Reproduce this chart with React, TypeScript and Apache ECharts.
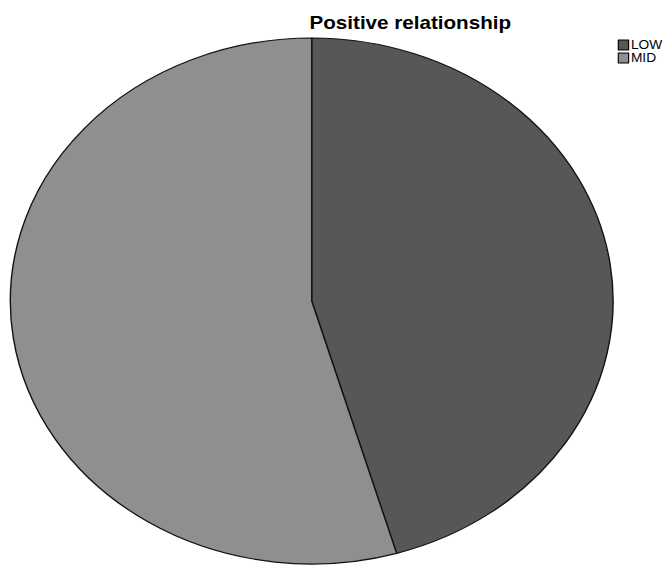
import React, { useEffect, useRef } from "react";
import * as echarts from "echarts";

const categories = ["LOW", "MID"];
const counts = [5, 6];
const colors = ["#575757", "#8f8f8f"];
const titleText = "Positive relationship";

// the chart is laid out on a narrower canvas and stretched horizontally
const OUT_W = 667;
const OUT_H = 566;
const INNER_W = 582;
const STRETCH = OUT_W / INNER_W;

export default function App() {
  const ref = useRef<HTMLDivElement>(null);

  useEffect(() => {
    if (!ref.current) return;
    const chart = echarts.init(ref.current, undefined, { renderer: "svg" });
    chart.setOption({
      animation: false,
      backgroundColor: "#ffffff",
      title: {
        text: titleText,
        left: 358,
        textAlign: "center",
        top: 13,
        padding: 0,
        textStyle: {
          fontFamily: "Liberation Sans, Arial, sans-serif",
          fontWeight: "bold",
          fontSize: 18,
          color: "#000000",
        },
      },
      legend: {
        orient: "vertical",
        left: 539,
        top: 39,
        padding: 0,
        itemGap: 1,
        itemWidth: 9,
        itemHeight: 10,
        icon: "rect",
        selectedMode: false,
        data: categories,
        itemStyle: { borderColor: "#000000", borderWidth: 1 },
        textStyle: {
          fontFamily: "Liberation Sans, Arial, sans-serif",
          fontSize: 12,
          lineHeight: 10,
          color: "#000000",
          padding: [0, 0, 0, -3],
        },
      },
      series: [
        {
          type: "pie",
          center: [272, 301],
          radius: 263,
          startAngle: 90,
          clockwise: true,
          label: { show: false },
          labelLine: { show: false },
          emphasis: { disabled: true },
          itemStyle: { borderColor: "#111111", borderWidth: 1.2 },
          data: categories.map((name, i) => ({
            name,
            value: counts[i],
            itemStyle: { color: colors[i] },
          })),
        },
      ],
    });
    return () => chart.dispose();
  }, []);

  return (
    <div
      style={{
        position: "fixed",
        left: 0,
        top: 0,
        width: OUT_W,
        height: OUT_H,
        overflow: "hidden",
        background: "#ffffff",
      }}
    >
      <div
        ref={ref}
        style={{
          width: INNER_W,
          height: OUT_H,
          transform: `scaleX(${STRETCH})`,
          transformOrigin: "0 0",
        }}
      />
    </div>
  );
}
